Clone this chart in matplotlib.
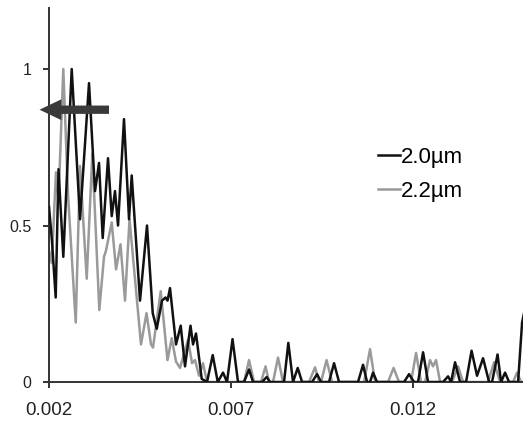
import matplotlib
matplotlib.use("Agg")
import matplotlib.pyplot as plt

plt.rcParams['font.family'] = ['Liberation Sans', 'DejaVu Sans']

# ---- data ----
black_x = [0.002000, 0.002082, 0.002184, 0.002261, 0.002393, 0.002624, 0.002852, 0.003099,
           0.003264, 0.003374, 0.003475, 0.003621, 0.003723, 0.003813, 0.003896, 0.004060,
           0.004198, 0.004272, 0.004500, 0.004692, 0.004849, 0.004959, 0.005104, 0.005201,
           0.005256, 0.005324, 0.005489, 0.005618, 0.005736, 0.005887, 0.005956, 0.006038,
           0.006195, 0.006341, 0.006497, 0.006635, 0.006780, 0.006890, 0.007041, 0.007192,
           0.007357, 0.007495, 0.007604, 0.007852, 0.007981, 0.008071, 0.008456, 0.008574,
           0.008703, 0.008832, 0.008951, 0.009225, 0.009363, 0.009473, 0.009692, 0.009830,
           0.009967, 0.010489, 0.010626, 0.010736, 0.010819, 0.010901, 0.011011, 0.011753,
           0.011890, 0.012027, 0.012137, 0.012275, 0.012412, 0.012824, 0.012962, 0.013044,
           0.013154, 0.013291, 0.013456, 0.013607, 0.013758, 0.013923, 0.014088, 0.014170,
           0.014321, 0.014418, 0.014527, 0.014637, 0.014885, 0.014995, 0.015049]
black_y = [0.56, 0.45, 0.27, 0.68, 0.40, 1.00, 0.52, 0.955,
           0.61, 0.70, 0.46, 0.715, 0.53, 0.61, 0.50, 0.84,
           0.52, 0.66, 0.26, 0.50, 0.22, 0.17, 0.26, 0.27,
           0.26, 0.30, 0.12, 0.18, 0.05, 0.18, 0.12, 0.155,
           0.01, 0.0, 0.086, 0.0, 0.03, 0.0, 0.137, 0.0,
           0.0, 0.04, 0.0, 0.0, 0.016, 0.0, 0.0, 0.125,
           0.0, 0.045, 0.0, 0.0, 0.025, 0.0, 0.0, 0.06,
           0.0, 0.0, 0.055, 0.0, 0.0, 0.03, 0.0, 0.0,
           0.025, 0.0, 0.0, 0.095, 0.0, 0.0, 0.018, 0.0,
           0.063, 0.0, 0.0, 0.10, 0.02, 0.076, 0.0, 0.0,
           0.088, 0.0, 0.03, 0.0, 0.0, 0.19, 0.22]

gray_x = [0.002000, 0.002074, 0.002192, 0.002261, 0.002393, 0.002522, 0.002734, 0.002852,
          0.003036, 0.003190, 0.003382, 0.003511, 0.003566, 0.003723, 0.003841, 0.003964,
          0.004088, 0.004212, 0.004527, 0.004679, 0.004802, 0.004857, 0.005069, 0.005255,
          0.005371, 0.005489, 0.005599, 0.005819, 0.005929, 0.006011, 0.006121, 0.006231,
          0.006341, 0.007357, 0.007495, 0.007632, 0.007824, 0.007948, 0.008044, 0.008154,
          0.008291, 0.008429, 0.009143, 0.009308, 0.009418, 0.009473, 0.009624, 0.009775,
          0.010654, 0.010819, 0.010956, 0.011313, 0.011464, 0.011615, 0.011945, 0.012082,
          0.012220, 0.012330, 0.012467, 0.012549, 0.012632, 0.012742, 0.013071, 0.013236,
          0.013374, 0.014060, 0.014225, 0.014390, 0.014747, 0.014857, 0.014967, 0.015049]
gray_y = [0.42, 0.38, 0.67, 0.58, 1.00, 0.60, 0.19, 0.69,
          0.33, 0.73, 0.23, 0.40, 0.42, 0.51, 0.36, 0.44,
          0.26, 0.52, 0.12, 0.22, 0.12, 0.11, 0.29, 0.07,
          0.14, 0.065, 0.045, 0.135, 0.06, 0.07, 0.02, 0.06,
          0.0, 0.0, 0.07, 0.0, 0.0, 0.05, 0.0, 0.0,
          0.078, 0.0, 0.0, 0.047, 0.0, 0.0, 0.07, 0.0,
          0.0, 0.105, 0.0, 0.0, 0.045, 0.0, 0.0, 0.093,
          0.0, 0.0, 0.07, 0.05, 0.07, 0.0, 0.0, 0.05,
          0.0, 0.0, 0.063, 0.0, 0.0, 0.03, 0.0, 0.0]

series_labels = ['2.0µm', '2.2µm']
x_ticks = [0.002, 0.007, 0.012]
x_ticklabels = ['0.002', '0.007', '0.012']
y_ticks = [0, 0.5, 1]
y_ticklabels = ['0', '0.5', '1']

# ---- figure ----
fig = plt.figure(figsize=(5.23, 4.23), dpi=100)
ax = fig.add_axes([49/523, 41/423, 474/523, 374/423])

lg, = ax.plot(gray_x, gray_y, color='#9a9a9a', lw=1.8, solid_joinstyle='round', zorder=2)
lb, = ax.plot(black_x, black_y, color='#111111', lw=1.8, solid_joinstyle='round', zorder=3)

ax.set_xlim(0.002, 0.01502)
ax.set_ylim(0, 1.195)

ax.set_xticks(x_ticks)
ax.set_xticklabels(x_ticklabels, fontsize=13.5)
ax.set_yticks(y_ticks)
ax.set_yticklabels(y_ticklabels, fontsize=11.5)

for s in ['top', 'right']:
    ax.spines[s].set_visible(False)
for s in ['left', 'bottom']:
    ax.spines[s].set_color('#333333')
    ax.spines[s].set_linewidth(1.4)
ax.tick_params(axis='both', direction='out', length=4.5, width=1.4, color='#333333',
               labelcolor='#222222')
ax.tick_params(axis='x', pad=10)
ax.tick_params(axis='y', pad=8)

# arrow
ax.annotate('', xy=(0.001739, 0.87), xytext=(0.003648, 0.87),
            arrowprops=dict(arrowstyle='simple,head_length=1.05,head_width=1.0,tail_width=0.4',
                            mutation_scale=15, color='#3a3a3a', lw=0, shrinkA=0, shrinkB=0),
            annotation_clip=False, zorder=5)

leg = ax.legend([lb, lg], series_labels, loc='upper left', frameon=False,
                bbox_to_anchor=(362/523, 1 - 131/423), bbox_transform=fig.transFigure,
                fontsize=16, handlelength=1.0, handletextpad=0.05, labelspacing=0.6,
                borderpad=0.2)
for line in leg.get_lines():
    line.set_linewidth(1.8)

fig.savefig('out.png', dpi=100)
